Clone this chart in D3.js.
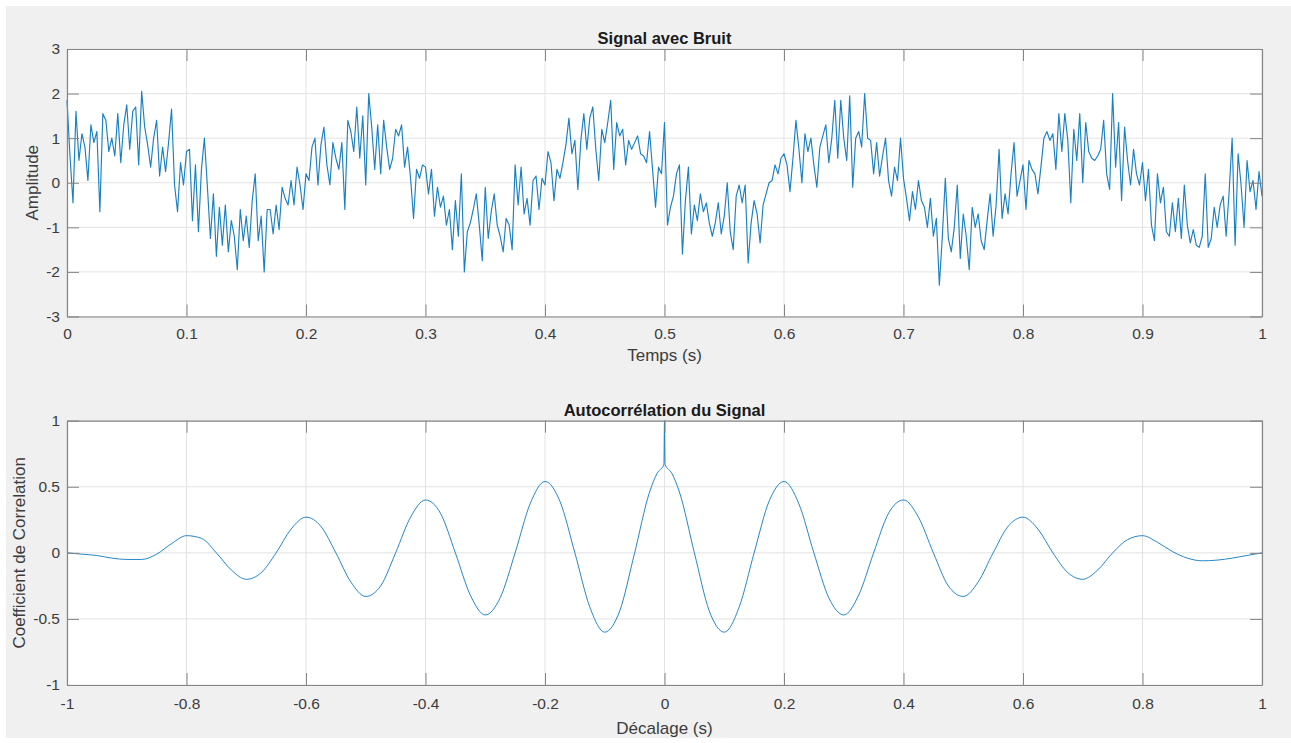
<!DOCTYPE html>
<html>
<head>
<meta charset="utf-8">
<script src="https://cdn.jsdelivr.net/npm/d3@7"></script>
<style>
  html, body { margin: 0; padding: 0; background: #ffffff; }
  svg { display: block; }
  text { font-family: "Liberation Sans", Arial, Helvetica, sans-serif; }
</style>
</head>
<body>
<svg id="fig" width="1291" height="743"></svg>
<script>
// ---- Noisy signal, sampled every 2.5 ms from 0 to 1 s ----
const signalStep = 0.0025;
const signalValues = [
  1.85, 0.6, -0.45, 1.6, 0.5, 1.1, 0.8, 0.05, 1.3, 0.9, 1.15, -0.65, 1.55, 1.4, 0.7, 1.0, 0.6, 1.55, 0.45, 1.3,
  1.75, 0.75, 1.6, 1.7, 0.4, 2.05, 1.25, 0.85, 0.35, 1.0, 1.4, 0.15, 0.8, 0.25, 0.9, 1.65, -0.05, -0.65, 0.45, -0.05,
  0.7, 0.75, -0.85, 0.4, -1.1, 0.3, 1.0, -0.1, -1.25, -0.25, -1.65, -0.55, -1.4, -0.5, -1.55, -0.85, -1.2, -1.95, -0.6, -1.3,
  -0.75, -1.45, -0.4, 0.2, -1.3, -0.75, -2.0, -0.6, -0.6, -1.15, -0.5, -1.05, -0.1, -0.35, -0.5, 0.05, -0.5, 0.35, -0.05, -0.6,
  0.2, 0.05, 0.8, 1.0, -0.05, 0.85, 1.25, 0.4, -0.05, 0.9, 0.55, 0.3, 0.9, -0.6, 1.4, 1.15, 0.7, 1.7, 0.55, 1.5,
  -0.05, 2.0, 1.25, 0.3, 1.3, 0.2, 1.4, 0.8, 0.3, 0.55, 1.2, 1.05, 1.3, 0.35, 0.8, 0.1, -0.8, 0.3, 0.1, 0.4,
  0.35, -0.25, 0.3, -0.75, -0.1, -0.55, -0.3, -0.95, -0.6, -1.5, -0.4, -1.2, 0.2, -2.0, -1.1, -0.9, -0.6, -0.25, -0.95, -1.75,
  -0.1, -1.25, -0.65, -0.25, -0.95, -1.2, -1.55, -0.8, -0.95, -1.5, 0.4, -0.5, 0.35, -0.7, -0.35, -0.95, 0.05, 0.15, -0.6, 0.1,
  -0.05, 0.7, 0.45, -0.4, 0.3, 0.1, 0.45, 0.85, 1.45, 0.65, 0.95, -0.15, 0.95, 1.55, 0.75, 1.45, 1.7, 0.75, 0.05, 1.2,
  0.9, 1.35, 1.85, 0.3, 1.35, 1.05, 1.2, 0.4, 0.95, 0.75, 0.9, 1.05, 0.65, 0.6, 0.45, 1.15, 0.3, -0.55, 0.35, 0.2,
  1.35, -0.95, -0.55, -0.3, 0.2, 0.4, -1.6, -0.4, 0.35, -1.15, -0.5, -0.85, -0.25, -0.65, -0.45, -0.9, -1.2, -0.9, -0.45, -1.15,
  -0.75, 0.0, -1.1, -1.5, -0.3, -0.05, -0.45, -0.05, -1.8, -0.9, -0.4, -0.7, -1.35, -0.5, -0.25, 0.0, 0.05, 0.4, 0.2, 0.55,
  0.65, 0.4, -0.2, 0.55, 1.4, 0.75, 0.0, 1.1, 0.7, 1.0, 0.4, -0.1, 0.8, 1.05, 1.3, 0.45, 1.0, 1.85, 0.55, 1.85,
  1.0, 0.5, 1.95, -0.1, 1.0, 1.15, 0.8, 2.0, 1.0, 0.95, 0.2, 0.9, 0.15, 0.6, 1.0, 0.05, -0.3, 0.35, 0.05, 1.0,
  0.1, -0.35, -0.85, -0.2, -0.6, 0.05, -0.4, -0.55, -1.0, -0.35, -1.2, -0.8, -2.3, -1.2, 0.1, -1.25, -1.55, -1.0, -0.05, -1.7,
  -0.7, -1.2, -1.95, -0.55, -1.0, -0.7, -1.3, -1.5, -0.85, -0.25, -1.2, -0.5, 0.75, -0.8, -0.25, -0.7, 0.2, 0.9, -0.3, 0.05,
  0.4, -0.6, 0.5, 0.3, 0.2, -0.25, 0.35, 1.0, 1.15, 0.95, 1.1, 0.3, 1.55, 0.7, 1.55, 0.95, -0.45, 1.2, 0.5, 1.55,
  0.0, 1.35, 0.7, 0.55, 0.5, 0.6, 0.75, 1.4, 0.2, -0.15, 2.0, 0.35, 1.35, -0.4, 1.25, 0.5, -0.05, 0.75, 0.2, -0.05,
  0.45, -0.4, 0.3, -0.95, -1.3, 0.2, -0.45, -0.1, -1.1, -1.2, -0.45, -1.1, -0.35, -1.25, -0.05, -0.95, -1.35, -1.05, -1.4, -1.45,
  -1.2, 0.2, -1.45, -1.25, -0.55, -1.0, -0.5, -0.3, -1.2, -0.2, 1.0, -1.4, 0.65, -0.05, -1.0, 0.5, -0.2, 0.05, -0.6, 0.25,
  -0.3
];

// ---- Normalised autocorrelation versus lag (s) ----
const acfLags = [
  -1.0, -0.975, -0.95, -0.925, -0.9, -0.875, -0.85, -0.825, -0.8, -0.775,
  -0.75, -0.725, -0.7, -0.675, -0.65, -0.625, -0.6, -0.575, -0.55, -0.525,
  -0.5, -0.475, -0.45, -0.425, -0.4, -0.375, -0.35, -0.325, -0.3, -0.275,
  -0.25, -0.225, -0.2, -0.175, -0.15, -0.125, -0.1, -0.075, -0.05, -0.025,
  -0.0125, -0.001, 0.0, 0.001, 0.0125,
  0.025, 0.05, 0.075, 0.1, 0.125, 0.15, 0.175, 0.2, 0.225, 0.25,
  0.275, 0.3, 0.325, 0.35, 0.375, 0.4, 0.425, 0.45, 0.475, 0.5,
  0.525, 0.55, 0.575, 0.6, 0.625, 0.65, 0.675, 0.7, 0.725, 0.75,
  0.775, 0.8, 0.825, 0.85, 0.875, 0.9, 0.925, 0.95, 0.975, 1.0
];
const acfValues = [
  0.0, -0.01, -0.02, -0.04, -0.05, -0.05, -0.01, 0.07, 0.13, 0.11,
  0.0, -0.13, -0.20, -0.15, 0.0, 0.18, 0.27, 0.20, 0.0, -0.22,
  -0.33, -0.25, 0.0, 0.27, 0.40, 0.30, 0.0, -0.32, -0.47, -0.34,
  0.0, 0.37, 0.54, 0.39, 0.0, -0.41, -0.60, -0.44, 0.0, 0.46,
  0.60, 0.67, 1.0, 0.67, 0.60,
  0.46, 0.0, -0.44, -0.60, -0.41, 0.0, 0.39, 0.54, 0.37, 0.0,
  -0.34, -0.47, -0.32, 0.0, 0.30, 0.40, 0.27, 0.0, -0.25, -0.33,
  -0.22, 0.0, 0.20, 0.27, 0.18, 0.0, -0.15, -0.20, -0.13, 0.0,
  0.10, 0.13, 0.08, 0.01, -0.04, -0.06, -0.055, -0.04, -0.02, 0.0
];

// ---- Tick positions and their labels ----
const timeTicks = [0, 0.1, 0.2, 0.3, 0.4, 0.5, 0.6, 0.7, 0.8, 0.9, 1];
const timeLabels = ["0", "0.1", "0.2", "0.3", "0.4", "0.5", "0.6", "0.7", "0.8", "0.9", "1"];
const amplitudeTicks = [-3, -2, -1, 0, 1, 2, 3];
const amplitudeLabels = ["-3", "-2", "-1", "0", "1", "2", "3"];
const lagTicks = [-1, -0.8, -0.6, -0.4, -0.2, 0, 0.2, 0.4, 0.6, 0.8, 1];
const lagLabels = ["-1", "-0.8", "-0.6", "-0.4", "-0.2", "0", "0.2", "0.4", "0.6", "0.8", "1"];
const corrTicks = [-1, -0.5, 0, 0.5, 1];
const corrLabels = ["-1", "-0.5", "0", "0.5", "1"];

const LINE_COLOR = "#0072BD";
const BOX_COLOR = "#858585";
const GRID_COLOR = "#e3e3e3";
const TEXT_COLOR = "#3c3c3c";

const svg = d3.select("#fig");

// figure background
svg.append("rect").attr("x", 6).attr("y", 6).attr("width", 1285).attr("height", 732)
  .attr("fill", "#f0f0f0");

function drawPanel(p) {
  const g = svg.append("g");
  const x = d3.scaleLinear().domain(p.xDomain).range([p.left, p.right]);
  const y = d3.scaleLinear().domain(p.yDomain).range([p.bottom, p.top]);

  // plot area
  g.append("rect").attr("x", p.left).attr("y", p.top)
    .attr("width", p.right - p.left).attr("height", p.bottom - p.top)
    .attr("fill", "#ffffff");

  // grid
  g.append("g").selectAll("line").data(p.xTicks).join("line")
    .attr("x1", d => x(d)).attr("x2", d => x(d))
    .attr("y1", p.top).attr("y2", p.bottom)
    .attr("stroke", GRID_COLOR).attr("stroke-width", 1);
  g.append("g").selectAll("line").data(p.yTicks).join("line")
    .attr("x1", p.left).attr("x2", p.right)
    .attr("y1", d => y(d)).attr("y2", d => y(d))
    .attr("stroke", GRID_COLOR).attr("stroke-width", 1);

  // data line
  const line = d3.line().x(d => x(d[0])).y(d => y(d[1])).curve(p.curve);
  g.append("path").datum(p.points)
    .attr("d", line)
    .attr("fill", "none")
    .attr("stroke", LINE_COLOR)
    .attr("stroke-width", p.lineWidth)
    .attr("stroke-opacity", p.lineOpacity)
    .attr("stroke-linejoin", "round");

  // axes with inward ticks on all four sides
  const tickLen = 12;
  const styleAxis = sel => {
    sel.selectAll(".domain").attr("stroke", BOX_COLOR).attr("stroke-width", 1.2);
    sel.selectAll(".tick line").attr("stroke", BOX_COLOR).attr("stroke-width", 1);
    sel.selectAll(".tick text").attr("fill", TEXT_COLOR)
      .style("font-size", "15.5px");
  };

  g.append("g").attr("transform", `translate(0,${p.bottom})`)
    .call(d3.axisBottom(x).tickValues(p.xTicks)
      .tickFormat((d, i) => p.xLabels[i]).tickSizeInner(-tickLen).tickSizeOuter(0)
      .tickPadding(p.xPad))
    .call(styleAxis);
  g.append("g").attr("transform", `translate(0,${p.top})`)
    .call(d3.axisTop(x).tickValues(p.xTicks).tickFormat("")
      .tickSizeInner(-tickLen).tickSizeOuter(0))
    .call(styleAxis);
  g.append("g").attr("transform", `translate(${p.left},0)`)
    .call(d3.axisLeft(y).tickValues(p.yTicks)
      .tickFormat((d, i) => p.yLabels[i]).tickSizeInner(-tickLen).tickSizeOuter(0)
      .tickPadding(7))
    .call(styleAxis);
  g.append("g").attr("transform", `translate(${p.right},0)`)
    .call(d3.axisRight(y).tickValues(p.yTicks).tickFormat("")
      .tickSizeInner(-tickLen).tickSizeOuter(0))
    .call(styleAxis);
  g.selectAll(".domain").attr("fill", "none");

  const cx = (p.left + p.right) / 2;
  const cy = (p.top + p.bottom) / 2;

  // title
  g.append("text").attr("x", cx).attr("y", p.top - 5)
    .attr("text-anchor", "middle").attr("font-weight", "bold")
    .attr("fill", "#1a1a1a").style("font-size", "16.5px")
    .text(p.title);

  // x label
  g.append("text").attr("x", cx).attr("y", p.xLabelY)
    .attr("text-anchor", "middle").attr("fill", TEXT_COLOR)
    .style("font-size", "17px").text(p.xTitle);

  // y label
  g.append("text")
    .attr("transform", `translate(${p.yLabelX},${cy}) rotate(-90)`)
    .attr("text-anchor", "middle").attr("fill", TEXT_COLOR)
    .style("font-size", "17px").text(p.yTitle);
}

drawPanel({
  left: 67, right: 1262, top: 49, bottom: 316.5,
  xDomain: [0, 1], yDomain: [-3, 3],
  xTicks: timeTicks, xLabels: timeLabels,
  yTicks: amplitudeTicks, yLabels: amplitudeLabels,
  xPad: 11,
  points: signalValues.map((v, i) => [i * signalStep, v]),
  curve: d3.curveLinear, lineWidth: 1.15, lineOpacity: 0.9,
  title: "Signal avec Bruit",
  xTitle: "Temps (s)", xLabelY: 361,
  yTitle: "Amplitude", yLabelX: 38
});

drawPanel({
  left: 67, right: 1262, top: 420.7, bottom: 685,
  xDomain: [-1, 1], yDomain: [-1, 1],
  xTicks: lagTicks, xLabels: lagLabels,
  yTicks: corrTicks, yLabels: corrLabels,
  xPad: 13,
  points: acfLags.map((l, i) => [l, acfValues[i]]),
  curve: d3.curveMonotoneX, lineWidth: 1, lineOpacity: 0.85,
  title: "Autocorrélation du Signal",
  xTitle: "Décalage (s)", xLabelY: 734,
  yTitle: "Coefficient de Correlation", yLabelX: 25
});
</script>
</body>
</html>
